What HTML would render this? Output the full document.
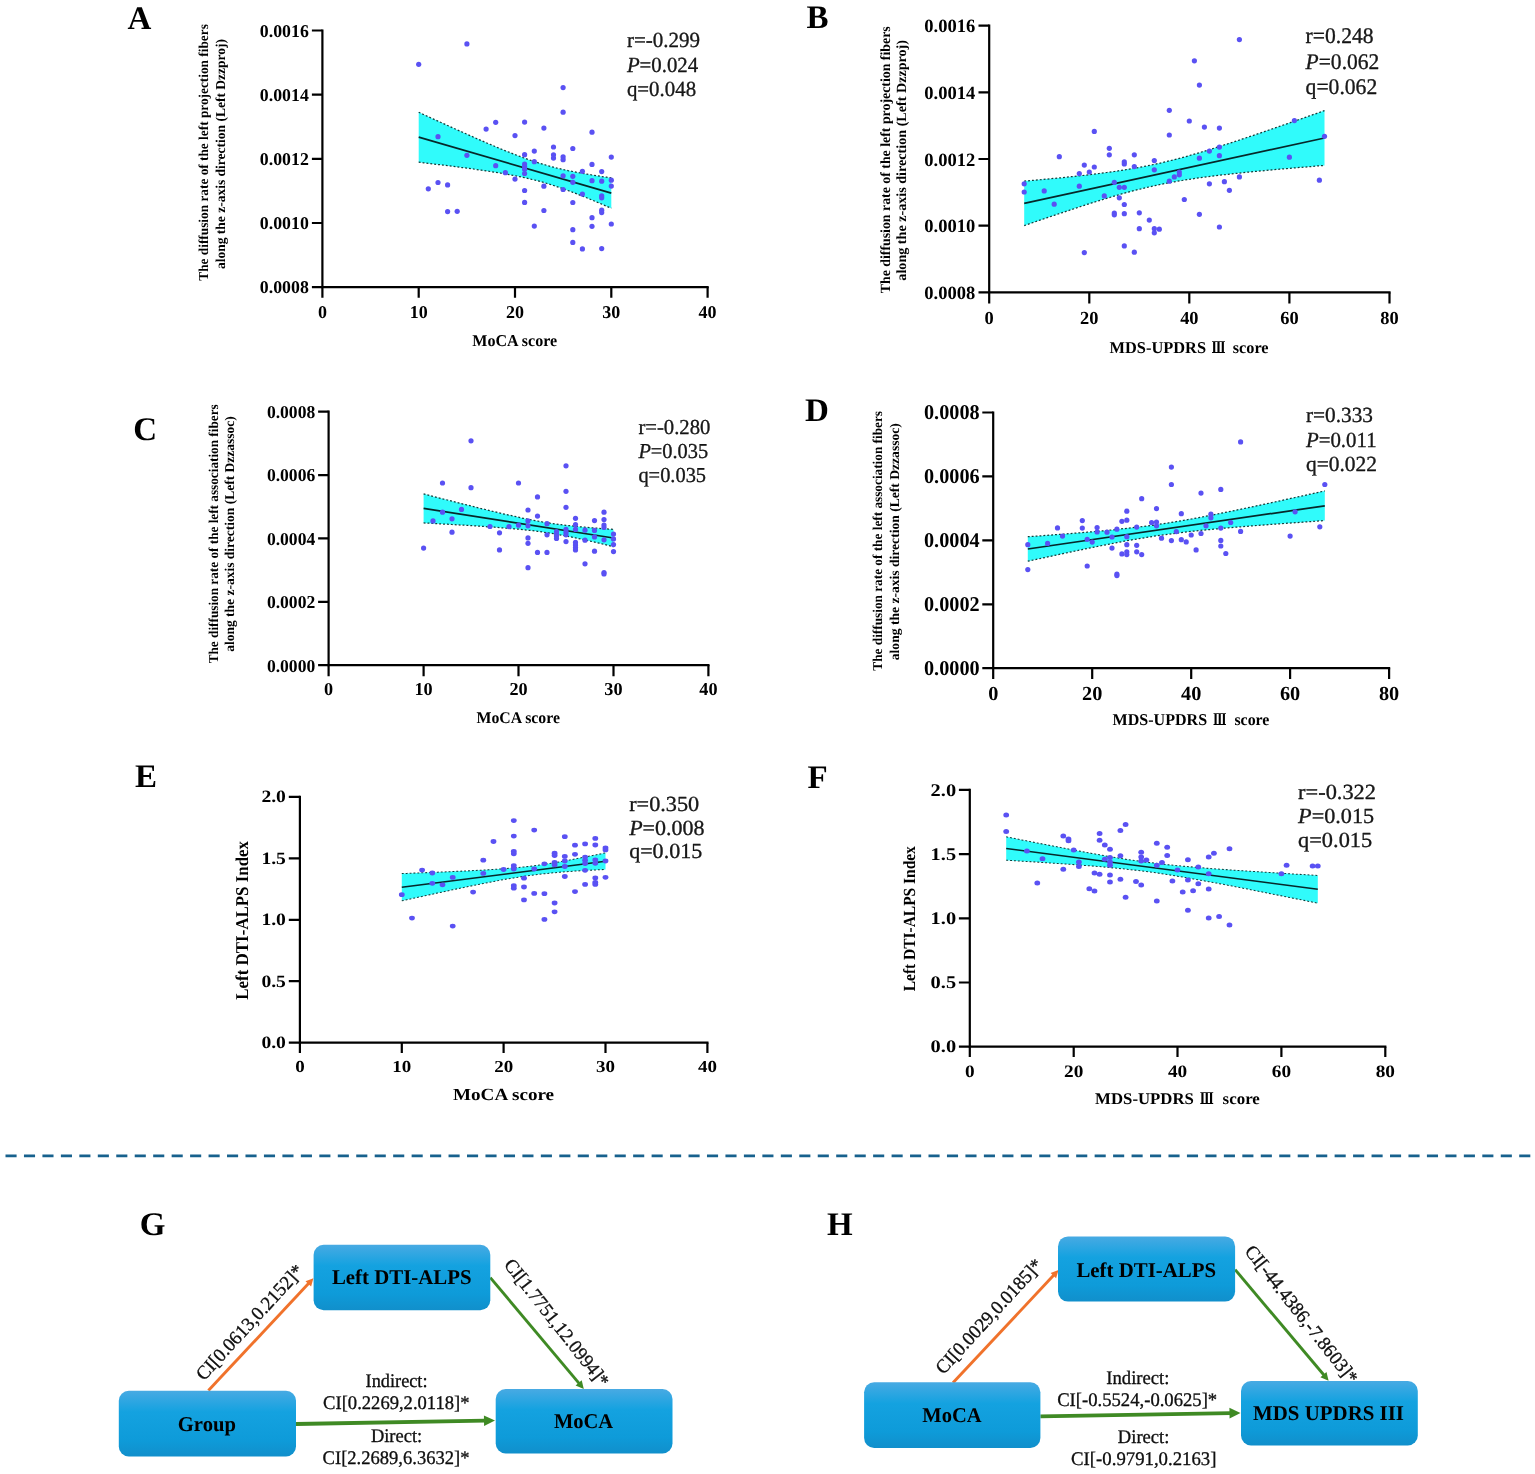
<!DOCTYPE html>
<html lang="en"><head><meta charset="utf-8"><title>Figure</title>
<style>
html,body{margin:0;padding:0;background:#fff;}
body{width:1535px;height:1474px;overflow:hidden;}
svg{display:block;font-family:'Liberation Serif', 'Noto Serif CJK SC', serif;}
text{stroke:#000;stroke-width:0.3px;stroke-linejoin:round;}
text[font-weight=bold],g[font-weight=bold] text{stroke:none;}
</style></head><body>
<svg width="1535" height="1474" viewBox="0 0 1535 1474" text-rendering="geometricPrecision">
<rect width="1535" height="1474" fill="#fff"/>
<g id="panel-A">
<polygon points="418.7,112.2 423.5,114.5 428.3,116.7 433.1,118.9 438.0,121.1 442.8,123.3 447.6,125.5 452.4,127.7 457.2,129.9 462.0,132.0 466.9,134.2 471.7,136.3 476.5,138.5 481.3,140.6 486.1,142.7 490.9,144.7 495.7,146.8 500.6,148.8 505.4,150.8 510.2,152.7 515.0,154.6 519.8,156.4 524.6,158.2 529.4,159.9 534.3,161.5 539.1,163.1 543.9,164.5 548.7,165.9 553.5,167.2 558.3,168.4 563.1,169.5 568.0,170.6 572.8,171.5 577.6,172.5 582.4,173.3 587.2,174.2 592.0,175.0 596.9,175.7 601.7,176.5 606.5,177.2 611.3,177.9 611.3,208.3 606.5,206.2 601.7,204.1 596.9,202.1 592.0,200.0 587.2,198.0 582.4,196.1 577.6,194.2 572.8,192.3 568.0,190.5 563.1,188.7 558.3,187.1 553.5,185.5 548.7,184.0 543.9,182.5 539.1,181.2 534.3,180.0 529.4,178.8 524.6,177.7 519.8,176.7 515.0,175.7 510.2,174.8 505.4,174.0 500.6,173.1 495.7,172.4 490.9,171.6 486.1,170.9 481.3,170.2 476.5,169.5 471.7,168.8 466.9,168.2 462.0,167.6 457.2,166.9 452.4,166.3 447.6,165.7 442.8,165.1 438.0,164.5 433.1,163.9 428.3,163.4 423.5,162.8 418.7,162.2" fill="#30fbfb"/>
<polyline points="418.7,112.2 423.5,114.5 428.3,116.7 433.1,118.9 438.0,121.1 442.8,123.3 447.6,125.5 452.4,127.7 457.2,129.9 462.0,132.0 466.9,134.2 471.7,136.3 476.5,138.5 481.3,140.6 486.1,142.7 490.9,144.7 495.7,146.8 500.6,148.8 505.4,150.8 510.2,152.7 515.0,154.6 519.8,156.4 524.6,158.2 529.4,159.9 534.3,161.5 539.1,163.1 543.9,164.5 548.7,165.9 553.5,167.2 558.3,168.4 563.1,169.5 568.0,170.6 572.8,171.5 577.6,172.5 582.4,173.3 587.2,174.2 592.0,175.0 596.9,175.7 601.7,176.5 606.5,177.2 611.3,177.9" fill="none" stroke="#123c3a" stroke-width="1.25" stroke-dasharray="1.9 2"/>
<polyline points="418.7,162.2 423.5,162.8 428.3,163.4 433.1,163.9 438.0,164.5 442.8,165.1 447.6,165.7 452.4,166.3 457.2,166.9 462.0,167.6 466.9,168.2 471.7,168.8 476.5,169.5 481.3,170.2 486.1,170.9 490.9,171.6 495.7,172.4 500.6,173.1 505.4,174.0 510.2,174.8 515.0,175.7 519.8,176.7 524.6,177.7 529.4,178.8 534.3,180.0 539.1,181.2 543.9,182.5 548.7,184.0 553.5,185.5 558.3,187.1 563.1,188.7 568.0,190.5 572.8,192.3 577.6,194.2 582.4,196.1 587.2,198.0 592.0,200.0 596.9,202.1 601.7,204.1 606.5,206.2 611.3,208.3" fill="none" stroke="#123c3a" stroke-width="1.25" stroke-dasharray="1.9 2"/>
<line x1="418.7" y1="137.2" x2="611.3" y2="193.1" stroke="#06282a" stroke-width="1.75"/>
<g fill="#5a51f3"><circle cx="466.9" cy="43.9" r="2.6"/><circle cx="418.7" cy="64.3" r="2.6"/><circle cx="563.1" cy="87.6" r="2.6"/><circle cx="563.1" cy="112.2" r="2.6"/><circle cx="495.7" cy="122.3" r="2.6"/><circle cx="524.6" cy="122.1" r="2.6"/><circle cx="486.1" cy="129.1" r="2.6"/><circle cx="543.9" cy="128.1" r="2.6"/><circle cx="592.0" cy="132.2" r="2.6"/><circle cx="515.0" cy="135.6" r="2.6"/><circle cx="438.0" cy="136.7" r="2.6"/><circle cx="553.5" cy="147.0" r="2.6"/><circle cx="572.8" cy="148.5" r="2.6"/><circle cx="534.3" cy="151.1" r="2.6"/><circle cx="524.6" cy="154.7" r="2.6"/><circle cx="553.5" cy="154.8" r="2.6"/><circle cx="553.5" cy="158.1" r="2.6"/><circle cx="563.1" cy="156.8" r="2.6"/><circle cx="563.1" cy="159.7" r="2.6"/><circle cx="466.9" cy="155.3" r="2.6"/><circle cx="611.3" cy="157.1" r="2.6"/><circle cx="534.3" cy="161.7" r="2.6"/><circle cx="524.6" cy="164.1" r="2.6"/><circle cx="524.6" cy="166.5" r="2.6"/><circle cx="524.6" cy="169.3" r="2.6"/><circle cx="524.6" cy="173.5" r="2.6"/><circle cx="495.7" cy="165.7" r="2.6"/><circle cx="592.0" cy="164.4" r="2.6"/><circle cx="505.4" cy="172.7" r="2.6"/><circle cx="582.4" cy="171.3" r="2.6"/><circle cx="601.7" cy="171.6" r="2.6"/><circle cx="563.1" cy="175.8" r="2.6"/><circle cx="572.8" cy="176.3" r="2.6"/><circle cx="515.0" cy="179.1" r="2.6"/><circle cx="592.0" cy="180.7" r="2.6"/><circle cx="601.7" cy="181.2" r="2.6"/><circle cx="611.3" cy="180.2" r="2.6"/><circle cx="572.8" cy="182.3" r="2.6"/><circle cx="611.3" cy="186.1" r="2.6"/><circle cx="438.0" cy="182.5" r="2.6"/><circle cx="447.6" cy="184.9" r="2.6"/><circle cx="428.3" cy="188.8" r="2.6"/><circle cx="543.9" cy="186.2" r="2.6"/><circle cx="563.1" cy="189.5" r="2.6"/><circle cx="524.6" cy="190.5" r="2.6"/><circle cx="582.4" cy="194.1" r="2.6"/><circle cx="601.7" cy="195.8" r="2.6"/><circle cx="601.7" cy="197.8" r="2.6"/><circle cx="524.6" cy="202.4" r="2.6"/><circle cx="572.8" cy="202.5" r="2.6"/><circle cx="447.6" cy="211.6" r="2.6"/><circle cx="457.2" cy="211.3" r="2.6"/><circle cx="543.9" cy="210.5" r="2.6"/><circle cx="601.7" cy="210.2" r="2.6"/><circle cx="601.7" cy="212.6" r="2.6"/><circle cx="592.0" cy="217.7" r="2.6"/><circle cx="534.3" cy="226.1" r="2.6"/><circle cx="592.0" cy="226.3" r="2.6"/><circle cx="611.3" cy="224.0" r="2.6"/><circle cx="572.8" cy="229.7" r="2.6"/><circle cx="572.8" cy="242.4" r="2.6"/><circle cx="582.4" cy="248.9" r="2.6"/><circle cx="601.7" cy="248.6" r="2.6"/></g>
<path d="M322.4,29.4 V287.1 H708.7" fill="none" stroke="#000" stroke-width="2.2" stroke-linejoin="miter"/>
<path d="M311.9,287.1 H322.4 M311.9,223.0 H322.4 M311.9,158.8 H322.4 M311.9,94.7 H322.4 M311.9,30.5 H322.4 M322.4,287.1 V297.8 M418.7,287.1 V297.8 M515.0,287.1 V297.8 M611.3,287.1 V297.8 M707.6,287.1 V297.8" fill="none" stroke="#000" stroke-width="2.2"/>
<g font-weight="bold" font-size="18">
<text x="308.80" y="293.40" font-size="18" text-anchor="end" textLength="49.00" lengthAdjust="spacingAndGlyphs">0.0008</text>
<text x="308.80" y="229.25" font-size="18" text-anchor="end" textLength="49.00" lengthAdjust="spacingAndGlyphs">0.0010</text>
<text x="308.80" y="165.10" font-size="18" text-anchor="end" textLength="49.00" lengthAdjust="spacingAndGlyphs">0.0012</text>
<text x="308.80" y="100.95" font-size="18" text-anchor="end" textLength="49.00" lengthAdjust="spacingAndGlyphs">0.0014</text>
<text x="308.80" y="36.80" font-size="18" text-anchor="end" textLength="49.00" lengthAdjust="spacingAndGlyphs">0.0016</text>
<text x="322.40" y="318.20" font-size="18" text-anchor="middle">0</text>
<text x="418.70" y="318.20" font-size="18" text-anchor="middle">10</text>
<text x="515.00" y="318.20" font-size="18" text-anchor="middle">20</text>
<text x="611.30" y="318.20" font-size="18" text-anchor="middle">30</text>
<text x="707.60" y="318.20" font-size="18" text-anchor="middle">40</text>
</g>
<text y="345.60" font-weight="bold"><tspan x="472.30" font-size="16.5" textLength="84.90" lengthAdjust="spacingAndGlyphs">MoCA score</tspan></text>
<text x="208.40" y="152.40" font-size="13.6" font-weight="bold" text-anchor="middle" transform="rotate(-90 208.40 152.40)" textLength="256.50" lengthAdjust="spacingAndGlyphs">The diffusion rate of the left projection fibers</text>
<text x="224.60" y="154.00" font-size="13.6" font-weight="bold" text-anchor="middle" transform="rotate(-90 224.60 154.00)" textLength="230.00" lengthAdjust="spacingAndGlyphs">along the z-axis direction (Left Dzzproj)</text>
<text x="127.50" y="28.80" font-size="33" font-weight="bold">A</text>
<text x="626.90" y="47.40" font-size="21.5" fill="#1a1a1a" textLength="73.20" lengthAdjust="spacingAndGlyphs"><tspan>r</tspan>=-0.299</text>
<text x="626.90" y="71.90" font-size="21.5" fill="#1a1a1a" textLength="71.30" lengthAdjust="spacingAndGlyphs"><tspan font-style="italic">P</tspan>=0.024</text>
<text x="626.90" y="96.20" font-size="21.5" fill="#1a1a1a" textLength="69.20" lengthAdjust="spacingAndGlyphs"><tspan>q</tspan>=0.048</text>
</g>
<g id="panel-B">
<polygon points="1024.2,181.1 1031.7,180.5 1039.2,179.8 1046.7,179.1 1054.2,178.4 1061.8,177.7 1069.3,176.9 1076.8,176.1 1084.3,175.3 1091.8,174.4 1099.3,173.5 1106.8,172.5 1114.3,171.5 1121.8,170.3 1129.3,169.1 1136.8,167.8 1144.3,166.4 1151.8,164.9 1159.3,163.3 1166.8,161.5 1174.3,159.6 1181.8,157.7 1189.3,155.6 1196.9,153.4 1204.4,151.2 1211.9,148.9 1219.4,146.5 1226.9,144.1 1234.4,141.7 1241.9,139.2 1249.4,136.7 1256.9,134.2 1264.4,131.6 1271.9,129.0 1279.4,126.4 1286.9,123.8 1294.4,121.2 1301.9,118.6 1309.4,115.9 1316.9,113.3 1324.5,110.6 1324.5,165.4 1316.9,166.0 1309.4,166.7 1301.9,167.3 1294.4,167.9 1286.9,168.6 1279.4,169.2 1271.9,169.9 1264.4,170.6 1256.9,171.3 1249.4,172.0 1241.9,172.8 1234.4,173.6 1226.9,174.4 1219.4,175.3 1211.9,176.2 1204.4,177.1 1196.9,178.2 1189.3,179.3 1181.8,180.5 1174.3,181.8 1166.8,183.2 1159.3,184.7 1151.8,186.3 1144.3,188.1 1136.8,189.9 1129.3,191.9 1121.8,193.9 1114.3,196.1 1106.8,198.3 1099.3,200.6 1091.8,202.9 1084.3,205.3 1076.8,207.8 1069.3,210.3 1061.8,212.8 1054.2,215.3 1046.7,217.9 1039.2,220.4 1031.7,223.0 1024.2,225.6" fill="#30fbfb"/>
<polyline points="1024.2,181.1 1031.7,180.5 1039.2,179.8 1046.7,179.1 1054.2,178.4 1061.8,177.7 1069.3,176.9 1076.8,176.1 1084.3,175.3 1091.8,174.4 1099.3,173.5 1106.8,172.5 1114.3,171.5 1121.8,170.3 1129.3,169.1 1136.8,167.8 1144.3,166.4 1151.8,164.9 1159.3,163.3 1166.8,161.5 1174.3,159.6 1181.8,157.7 1189.3,155.6 1196.9,153.4 1204.4,151.2 1211.9,148.9 1219.4,146.5 1226.9,144.1 1234.4,141.7 1241.9,139.2 1249.4,136.7 1256.9,134.2 1264.4,131.6 1271.9,129.0 1279.4,126.4 1286.9,123.8 1294.4,121.2 1301.9,118.6 1309.4,115.9 1316.9,113.3 1324.5,110.6" fill="none" stroke="#123c3a" stroke-width="1.25" stroke-dasharray="1.9 2"/>
<polyline points="1024.2,225.6 1031.7,223.0 1039.2,220.4 1046.7,217.9 1054.2,215.3 1061.8,212.8 1069.3,210.3 1076.8,207.8 1084.3,205.3 1091.8,202.9 1099.3,200.6 1106.8,198.3 1114.3,196.1 1121.8,193.9 1129.3,191.9 1136.8,189.9 1144.3,188.1 1151.8,186.3 1159.3,184.7 1166.8,183.2 1174.3,181.8 1181.8,180.5 1189.3,179.3 1196.9,178.2 1204.4,177.1 1211.9,176.2 1219.4,175.3 1226.9,174.4 1234.4,173.6 1241.9,172.8 1249.4,172.0 1256.9,171.3 1264.4,170.6 1271.9,169.9 1279.4,169.2 1286.9,168.6 1294.4,167.9 1301.9,167.3 1309.4,166.7 1316.9,166.0 1324.5,165.4" fill="none" stroke="#123c3a" stroke-width="1.25" stroke-dasharray="1.9 2"/>
<line x1="1024.2" y1="203.4" x2="1324.5" y2="138.0" stroke="#06282a" stroke-width="1.75"/>
<g fill="#5a51f3"><circle cx="1239.4" cy="39.6" r="2.6"/><circle cx="1194.4" cy="60.8" r="2.6"/><circle cx="1199.4" cy="85.1" r="2.6"/><circle cx="1169.3" cy="110.3" r="2.6"/><circle cx="1189.3" cy="121.0" r="2.6"/><circle cx="1204.4" cy="127.1" r="2.6"/><circle cx="1219.4" cy="128.1" r="2.6"/><circle cx="1094.3" cy="131.4" r="2.6"/><circle cx="1169.3" cy="135.0" r="2.6"/><circle cx="1294.4" cy="120.6" r="2.6"/><circle cx="1324.5" cy="136.3" r="2.6"/><circle cx="1109.3" cy="148.3" r="2.6"/><circle cx="1109.3" cy="154.8" r="2.6"/><circle cx="1134.3" cy="154.8" r="2.6"/><circle cx="1219.4" cy="147.1" r="2.6"/><circle cx="1209.4" cy="151.1" r="2.6"/><circle cx="1059.3" cy="156.7" r="2.6"/><circle cx="1219.4" cy="155.7" r="2.6"/><circle cx="1199.4" cy="158.2" r="2.6"/><circle cx="1289.4" cy="157.2" r="2.6"/><circle cx="1124.3" cy="161.9" r="2.6"/><circle cx="1124.3" cy="164.0" r="2.6"/><circle cx="1154.3" cy="160.6" r="2.6"/><circle cx="1084.3" cy="165.1" r="2.6"/><circle cx="1094.3" cy="167.0" r="2.6"/><circle cx="1134.3" cy="166.6" r="2.6"/><circle cx="1079.3" cy="173.5" r="2.6"/><circle cx="1089.3" cy="172.0" r="2.6"/><circle cx="1154.3" cy="169.8" r="2.6"/><circle cx="1179.3" cy="172.0" r="2.6"/><circle cx="1179.3" cy="174.8" r="2.6"/><circle cx="1174.3" cy="176.9" r="2.6"/><circle cx="1239.4" cy="176.9" r="2.6"/><circle cx="1169.3" cy="181.2" r="2.6"/><circle cx="1319.4" cy="180.2" r="2.6"/><circle cx="1024.2" cy="183.8" r="2.6"/><circle cx="1024.2" cy="192.0" r="2.6"/><circle cx="1044.2" cy="190.9" r="2.6"/><circle cx="1079.3" cy="186.2" r="2.6"/><circle cx="1114.3" cy="182.3" r="2.6"/><circle cx="1119.3" cy="187.3" r="2.6"/><circle cx="1124.3" cy="187.3" r="2.6"/><circle cx="1209.4" cy="183.8" r="2.6"/><circle cx="1224.4" cy="181.7" r="2.6"/><circle cx="1229.4" cy="190.3" r="2.6"/><circle cx="1104.3" cy="195.9" r="2.6"/><circle cx="1119.3" cy="197.8" r="2.6"/><circle cx="1054.2" cy="204.2" r="2.6"/><circle cx="1124.3" cy="204.5" r="2.6"/><circle cx="1184.3" cy="199.5" r="2.6"/><circle cx="1114.3" cy="213.1" r="2.6"/><circle cx="1114.3" cy="214.8" r="2.6"/><circle cx="1124.3" cy="213.7" r="2.6"/><circle cx="1139.3" cy="212.8" r="2.6"/><circle cx="1199.4" cy="214.3" r="2.6"/><circle cx="1149.3" cy="220.1" r="2.6"/><circle cx="1139.3" cy="228.7" r="2.6"/><circle cx="1154.3" cy="228.7" r="2.6"/><circle cx="1159.3" cy="229.2" r="2.6"/><circle cx="1154.3" cy="232.8" r="2.6"/><circle cx="1219.4" cy="227.0" r="2.6"/><circle cx="1124.3" cy="245.9" r="2.6"/><circle cx="1084.3" cy="252.6" r="2.6"/><circle cx="1134.3" cy="252.2" r="2.6"/></g>
<path d="M989.2,24.6 V292.4 H1390.6" fill="none" stroke="#000" stroke-width="2.2" stroke-linejoin="miter"/>
<path d="M978.5,292.4 H989.2 M978.5,225.7 H989.2 M978.5,159.0 H989.2 M978.5,92.4 H989.2 M978.5,25.7 H989.2 M989.2,292.4 V303.6 M1089.3,292.4 V303.6 M1189.3,292.4 V303.6 M1289.4,292.4 V303.6 M1389.5,292.4 V303.6" fill="none" stroke="#000" stroke-width="2.2"/>
<g font-weight="bold" font-size="18.8">
<text x="975.30" y="299.00" font-size="18.8" text-anchor="end" textLength="51.00" lengthAdjust="spacingAndGlyphs">0.0008</text>
<text x="975.30" y="232.32" font-size="18.8" text-anchor="end" textLength="51.00" lengthAdjust="spacingAndGlyphs">0.0010</text>
<text x="975.30" y="165.65" font-size="18.8" text-anchor="end" textLength="51.00" lengthAdjust="spacingAndGlyphs">0.0012</text>
<text x="975.30" y="98.97" font-size="18.8" text-anchor="end" textLength="51.00" lengthAdjust="spacingAndGlyphs">0.0014</text>
<text x="975.30" y="32.30" font-size="18.8" text-anchor="end" textLength="51.00" lengthAdjust="spacingAndGlyphs">0.0016</text>
<text x="989.20" y="324.10" font-size="18.4" text-anchor="middle">0</text>
<text x="1089.28" y="324.10" font-size="18.4" text-anchor="middle">20</text>
<text x="1189.35" y="324.10" font-size="18.4" text-anchor="middle">40</text>
<text x="1289.42" y="324.10" font-size="18.4" text-anchor="middle">60</text>
<text x="1389.50" y="324.10" font-size="18.4" text-anchor="middle">80</text>
</g>
<text y="353.20" font-weight="bold"><tspan x="1109.50" font-size="16.5" textLength="96.60" lengthAdjust="spacingAndGlyphs">MDS-UPDRS</tspan> <tspan x="1211.50" font-size="16.3" textLength="14.00" lengthAdjust="spacingAndGlyphs" font-family="'DejaVu Serif', 'Noto Serif CJK SC', serif">Ⅲ</tspan> <tspan x="1232.70" font-size="16.5" textLength="35.90" lengthAdjust="spacingAndGlyphs">score</tspan></text>
<text x="890.10" y="159.80" font-size="14" font-weight="bold" text-anchor="middle" transform="rotate(-90 890.10 159.80)" textLength="267.00" lengthAdjust="spacingAndGlyphs">The diffusion rate of the left projection fibers</text>
<text x="906.30" y="160.30" font-size="14" font-weight="bold" text-anchor="middle" transform="rotate(-90 906.30 160.30)" textLength="240.70" lengthAdjust="spacingAndGlyphs">along the z-axis direction (Left Dzzproj)</text>
<text x="806.50" y="28.40" font-size="33" font-weight="bold">B</text>
<text x="1305.60" y="43.20" font-size="22.3" fill="#1a1a1a" textLength="68.00" lengthAdjust="spacingAndGlyphs"><tspan>r</tspan>=0.248</text>
<text x="1305.60" y="68.50" font-size="22.3" fill="#1a1a1a" textLength="73.70" lengthAdjust="spacingAndGlyphs"><tspan font-style="italic">P</tspan>=0.062</text>
<text x="1305.60" y="94.20" font-size="22.3" fill="#1a1a1a" textLength="71.60" lengthAdjust="spacingAndGlyphs"><tspan>q</tspan>=0.062</text>
</g>
<g id="panel-C">
<polygon points="423.6,493.9 428.3,495.1 433.0,496.4 437.8,497.6 442.5,498.8 447.3,500.0 452.0,501.2 456.8,502.4 461.5,503.6 466.3,504.8 471.0,506.0 475.8,507.2 480.5,508.4 485.3,509.5 490.0,510.7 494.8,511.8 499.5,512.9 504.3,514.1 509.0,515.1 513.8,516.2 518.5,517.2 523.2,518.3 528.0,519.2 532.7,520.2 537.5,521.0 542.2,521.9 547.0,522.7 551.7,523.4 556.5,524.1 561.2,524.7 566.0,525.3 570.7,525.8 575.5,526.3 580.2,526.8 585.0,527.2 589.7,527.6 594.5,528.0 599.2,528.4 604.0,528.8 608.7,529.1 613.5,529.4 613.5,546.7 608.7,545.5 604.0,544.4 599.2,543.2 594.5,542.1 589.7,541.0 585.0,540.0 580.2,538.9 575.5,537.9 570.7,536.9 566.0,536.0 561.2,535.1 556.5,534.2 551.7,533.4 547.0,532.7 542.2,532.0 537.5,531.3 532.7,530.7 528.0,530.2 523.2,529.7 518.5,529.2 513.8,528.8 509.0,528.4 504.3,528.0 499.5,527.6 494.8,527.2 490.0,526.9 485.3,526.6 480.5,526.2 475.8,525.9 471.0,525.6 466.3,525.3 461.5,525.1 456.8,524.8 452.0,524.5 447.3,524.2 442.5,524.0 437.8,523.7 433.0,523.4 428.3,523.2 423.6,522.9" fill="#30fbfb"/>
<polyline points="423.6,493.9 428.3,495.1 433.0,496.4 437.8,497.6 442.5,498.8 447.3,500.0 452.0,501.2 456.8,502.4 461.5,503.6 466.3,504.8 471.0,506.0 475.8,507.2 480.5,508.4 485.3,509.5 490.0,510.7 494.8,511.8 499.5,512.9 504.3,514.1 509.0,515.1 513.8,516.2 518.5,517.2 523.2,518.3 528.0,519.2 532.7,520.2 537.5,521.0 542.2,521.9 547.0,522.7 551.7,523.4 556.5,524.1 561.2,524.7 566.0,525.3 570.7,525.8 575.5,526.3 580.2,526.8 585.0,527.2 589.7,527.6 594.5,528.0 599.2,528.4 604.0,528.8 608.7,529.1 613.5,529.4" fill="none" stroke="#123c3a" stroke-width="1.25" stroke-dasharray="1.9 2"/>
<polyline points="423.6,522.9 428.3,523.2 433.0,523.4 437.8,523.7 442.5,524.0 447.3,524.2 452.0,524.5 456.8,524.8 461.5,525.1 466.3,525.3 471.0,525.6 475.8,525.9 480.5,526.2 485.3,526.6 490.0,526.9 494.8,527.2 499.5,527.6 504.3,528.0 509.0,528.4 513.8,528.8 518.5,529.2 523.2,529.7 528.0,530.2 532.7,530.7 537.5,531.3 542.2,532.0 547.0,532.7 551.7,533.4 556.5,534.2 561.2,535.1 566.0,536.0 570.7,536.9 575.5,537.9 580.2,538.9 585.0,540.0 589.7,541.0 594.5,542.1 599.2,543.2 604.0,544.4 608.7,545.5 613.5,546.7" fill="none" stroke="#123c3a" stroke-width="1.25" stroke-dasharray="1.9 2"/>
<line x1="423.6" y1="508.4" x2="613.5" y2="538.0" stroke="#06282a" stroke-width="1.75"/>
<g fill="#5a51f3"><circle cx="471.0" cy="440.8" r="2.6"/><circle cx="566.0" cy="465.8" r="2.6"/><circle cx="442.5" cy="483.0" r="2.6"/><circle cx="518.5" cy="483.0" r="2.6"/><circle cx="471.0" cy="487.7" r="2.6"/><circle cx="566.0" cy="491.3" r="2.6"/><circle cx="537.5" cy="496.9" r="2.6"/><circle cx="566.0" cy="507.3" r="2.6"/><circle cx="461.5" cy="509.4" r="2.6"/><circle cx="528.0" cy="510.0" r="2.6"/><circle cx="442.5" cy="512.2" r="2.6"/><circle cx="604.0" cy="512.2" r="2.6"/><circle cx="537.5" cy="516.1" r="2.6"/><circle cx="575.5" cy="518.3" r="2.6"/><circle cx="452.0" cy="518.8" r="2.6"/><circle cx="594.5" cy="520.6" r="2.6"/><circle cx="604.0" cy="519.6" r="2.6"/><circle cx="433.0" cy="520.9" r="2.6"/><circle cx="528.0" cy="520.9" r="2.6"/><circle cx="547.0" cy="523.7" r="2.6"/><circle cx="575.5" cy="524.5" r="2.6"/><circle cx="604.0" cy="525.0" r="2.6"/><circle cx="604.0" cy="527.5" r="2.6"/><circle cx="518.5" cy="525.2" r="2.6"/><circle cx="528.0" cy="525.8" r="2.6"/><circle cx="490.0" cy="526.5" r="2.6"/><circle cx="509.0" cy="526.6" r="2.6"/><circle cx="566.0" cy="529.4" r="2.6"/><circle cx="575.5" cy="529.4" r="2.6"/><circle cx="585.0" cy="530.2" r="2.6"/><circle cx="594.5" cy="530.4" r="2.6"/><circle cx="556.5" cy="531.5" r="2.6"/><circle cx="566.0" cy="532.3" r="2.6"/><circle cx="566.0" cy="534.8" r="2.6"/><circle cx="556.5" cy="534.0" r="2.6"/><circle cx="556.5" cy="535.9" r="2.6"/><circle cx="547.0" cy="534.8" r="2.6"/><circle cx="452.0" cy="532.2" r="2.6"/><circle cx="499.5" cy="532.8" r="2.6"/><circle cx="613.5" cy="534.0" r="2.6"/><circle cx="594.5" cy="536.9" r="2.6"/><circle cx="528.0" cy="537.9" r="2.6"/><circle cx="556.5" cy="538.5" r="2.6"/><circle cx="613.5" cy="538.9" r="2.6"/><circle cx="604.0" cy="539.8" r="2.6"/><circle cx="585.0" cy="540.2" r="2.6"/><circle cx="566.0" cy="541.6" r="2.6"/><circle cx="575.5" cy="542.4" r="2.6"/><circle cx="528.0" cy="543.3" r="2.6"/><circle cx="575.5" cy="545.0" r="2.6"/><circle cx="613.5" cy="544.6" r="2.6"/><circle cx="575.5" cy="547.5" r="2.6"/><circle cx="575.5" cy="549.9" r="2.6"/><circle cx="423.6" cy="548.1" r="2.6"/><circle cx="499.5" cy="549.9" r="2.6"/><circle cx="594.5" cy="551.2" r="2.6"/><circle cx="537.5" cy="552.4" r="2.6"/><circle cx="547.0" cy="552.4" r="2.6"/><circle cx="613.5" cy="551.6" r="2.6"/><circle cx="585.0" cy="563.8" r="2.6"/><circle cx="528.0" cy="567.7" r="2.6"/><circle cx="604.0" cy="572.6" r="2.6"/><circle cx="604.0" cy="573.9" r="2.6"/></g>
<path d="M328.6,410.6 V665.1 H709.5" fill="none" stroke="#000" stroke-width="2.2" stroke-linejoin="miter"/>
<path d="M318.1,665.1 H328.6 M318.1,601.8 H328.6 M318.1,538.4 H328.6 M318.1,475.1 H328.6 M318.1,411.7 H328.6 M328.6,665.1 V676.3 M423.6,665.1 V676.3 M518.5,665.1 V676.3 M613.5,665.1 V676.3 M708.4,665.1 V676.3" fill="none" stroke="#000" stroke-width="2.2"/>
<g font-weight="bold" font-size="18.2">
<text x="315.20" y="671.50" font-size="18.2" text-anchor="end" textLength="48.30" lengthAdjust="spacingAndGlyphs">0.0000</text>
<text x="315.20" y="608.15" font-size="18.2" text-anchor="end" textLength="48.30" lengthAdjust="spacingAndGlyphs">0.0002</text>
<text x="315.20" y="544.80" font-size="18.2" text-anchor="end" textLength="48.30" lengthAdjust="spacingAndGlyphs">0.0004</text>
<text x="315.20" y="481.45" font-size="18.2" text-anchor="end" textLength="48.30" lengthAdjust="spacingAndGlyphs">0.0006</text>
<text x="315.20" y="418.10" font-size="18.2" text-anchor="end" textLength="48.30" lengthAdjust="spacingAndGlyphs">0.0008</text>
<text x="328.60" y="695.40" font-size="18.2" text-anchor="middle">0</text>
<text x="423.55" y="695.40" font-size="18.2" text-anchor="middle">10</text>
<text x="518.50" y="695.40" font-size="18.2" text-anchor="middle">20</text>
<text x="613.45" y="695.40" font-size="18.2" text-anchor="middle">30</text>
<text x="708.40" y="695.40" font-size="18.2" text-anchor="middle">40</text>
</g>
<text y="722.80" font-weight="bold"><tspan x="476.50" font-size="16.3" textLength="83.50" lengthAdjust="spacingAndGlyphs">MoCA score</tspan></text>
<text x="217.70" y="533.80" font-size="13.5" font-weight="bold" text-anchor="middle" transform="rotate(-90 217.70 533.80)" textLength="259.00" lengthAdjust="spacingAndGlyphs">The diffusion rate of the left association fibers</text>
<text x="234.00" y="534.00" font-size="13.5" font-weight="bold" text-anchor="middle" transform="rotate(-90 234.00 534.00)" textLength="235.50" lengthAdjust="spacingAndGlyphs">along the z-axis direction (Left Dzzassoc)</text>
<text x="133.20" y="440.00" font-size="33" font-weight="bold">C</text>
<text x="638.40" y="434.00" font-size="21.3" fill="#1a1a1a" textLength="72.00" lengthAdjust="spacingAndGlyphs"><tspan>r</tspan>=-0.280</text>
<text x="638.40" y="458.10" font-size="21.3" fill="#1a1a1a" textLength="69.80" lengthAdjust="spacingAndGlyphs"><tspan font-style="italic">P</tspan>=0.035</text>
<text x="638.40" y="481.80" font-size="21.3" fill="#1a1a1a" textLength="67.70" lengthAdjust="spacingAndGlyphs"><tspan>q</tspan>=0.035</text>
</g>
<g id="panel-D">
<polygon points="1027.8,536.7 1035.3,536.2 1042.7,535.7 1050.1,535.1 1057.5,534.5 1065.0,534.0 1072.4,533.4 1079.8,532.8 1087.2,532.2 1094.6,531.5 1102.1,530.9 1109.5,530.2 1116.9,529.4 1124.3,528.6 1131.8,527.8 1139.2,526.9 1146.6,526.0 1154.0,525.0 1161.5,523.9 1168.9,522.8 1176.3,521.6 1183.7,520.3 1191.2,519.0 1198.6,517.7 1206.0,516.2 1213.4,514.8 1220.8,513.3 1228.3,511.8 1235.7,510.3 1243.1,508.7 1250.5,507.2 1258.0,505.6 1265.4,504.0 1272.8,502.4 1280.2,500.8 1287.7,499.1 1295.1,497.5 1302.5,495.9 1309.9,494.2 1317.3,492.6 1324.8,490.9 1324.8,520.6 1317.3,521.1 1309.9,521.6 1302.5,522.2 1295.1,522.7 1287.7,523.2 1280.2,523.8 1272.8,524.3 1265.4,524.9 1258.0,525.4 1250.5,526.0 1243.1,526.6 1235.7,527.2 1228.3,527.8 1220.8,528.5 1213.4,529.2 1206.0,529.9 1198.6,530.6 1191.2,531.4 1183.7,532.3 1176.3,533.2 1168.9,534.1 1161.5,535.1 1154.0,536.2 1146.6,537.4 1139.2,538.6 1131.8,539.9 1124.3,541.2 1116.9,542.6 1109.5,544.1 1102.1,545.5 1094.6,547.0 1087.2,548.5 1079.8,550.1 1072.4,551.6 1065.0,553.2 1057.5,554.8 1050.1,556.4 1042.7,558.0 1035.3,559.6 1027.8,561.2" fill="#30fbfb"/>
<polyline points="1027.8,536.7 1035.3,536.2 1042.7,535.7 1050.1,535.1 1057.5,534.5 1065.0,534.0 1072.4,533.4 1079.8,532.8 1087.2,532.2 1094.6,531.5 1102.1,530.9 1109.5,530.2 1116.9,529.4 1124.3,528.6 1131.8,527.8 1139.2,526.9 1146.6,526.0 1154.0,525.0 1161.5,523.9 1168.9,522.8 1176.3,521.6 1183.7,520.3 1191.2,519.0 1198.6,517.7 1206.0,516.2 1213.4,514.8 1220.8,513.3 1228.3,511.8 1235.7,510.3 1243.1,508.7 1250.5,507.2 1258.0,505.6 1265.4,504.0 1272.8,502.4 1280.2,500.8 1287.7,499.1 1295.1,497.5 1302.5,495.9 1309.9,494.2 1317.3,492.6 1324.8,490.9" fill="none" stroke="#123c3a" stroke-width="1.25" stroke-dasharray="1.9 2"/>
<polyline points="1027.8,561.2 1035.3,559.6 1042.7,558.0 1050.1,556.4 1057.5,554.8 1065.0,553.2 1072.4,551.6 1079.8,550.1 1087.2,548.5 1094.6,547.0 1102.1,545.5 1109.5,544.1 1116.9,542.6 1124.3,541.2 1131.8,539.9 1139.2,538.6 1146.6,537.4 1154.0,536.2 1161.5,535.1 1168.9,534.1 1176.3,533.2 1183.7,532.3 1191.2,531.4 1198.6,530.6 1206.0,529.9 1213.4,529.2 1220.8,528.5 1228.3,527.8 1235.7,527.2 1243.1,526.6 1250.5,526.0 1258.0,525.4 1265.4,524.9 1272.8,524.3 1280.2,523.8 1287.7,523.2 1295.1,522.7 1302.5,522.2 1309.9,521.6 1317.3,521.1 1324.8,520.6" fill="none" stroke="#123c3a" stroke-width="1.25" stroke-dasharray="1.9 2"/>
<line x1="1027.8" y1="549.0" x2="1324.8" y2="505.8" stroke="#06282a" stroke-width="1.75"/>
<g fill="#5a51f3"><circle cx="1240.6" cy="441.9" r="2.6"/><circle cx="1171.4" cy="467.1" r="2.6"/><circle cx="1171.4" cy="484.5" r="2.6"/><circle cx="1324.8" cy="484.5" r="2.6"/><circle cx="1220.8" cy="489.4" r="2.6"/><circle cx="1201.0" cy="493.1" r="2.6"/><circle cx="1141.7" cy="498.7" r="2.6"/><circle cx="1126.8" cy="511.2" r="2.6"/><circle cx="1156.5" cy="508.6" r="2.6"/><circle cx="1181.3" cy="513.7" r="2.6"/><circle cx="1210.9" cy="514.2" r="2.6"/><circle cx="1210.9" cy="517.8" r="2.6"/><circle cx="1082.3" cy="520.6" r="2.6"/><circle cx="1121.9" cy="521.3" r="2.6"/><circle cx="1126.8" cy="520.2" r="2.6"/><circle cx="1151.6" cy="522.5" r="2.6"/><circle cx="1156.5" cy="522.1" r="2.6"/><circle cx="1156.5" cy="525.8" r="2.6"/><circle cx="1057.5" cy="527.9" r="2.6"/><circle cx="1082.3" cy="528.1" r="2.6"/><circle cx="1097.1" cy="527.5" r="2.6"/><circle cx="1097.1" cy="532.0" r="2.6"/><circle cx="1116.9" cy="529.2" r="2.6"/><circle cx="1136.7" cy="527.1" r="2.6"/><circle cx="1107.0" cy="532.2" r="2.6"/><circle cx="1230.7" cy="522.5" r="2.6"/><circle cx="1206.0" cy="525.8" r="2.6"/><circle cx="1220.8" cy="528.1" r="2.6"/><circle cx="1295.1" cy="511.8" r="2.6"/><circle cx="1319.8" cy="526.8" r="2.6"/><circle cx="1240.6" cy="531.4" r="2.6"/><circle cx="1176.3" cy="531.6" r="2.6"/><circle cx="1201.0" cy="533.5" r="2.6"/><circle cx="1191.2" cy="535.0" r="2.6"/><circle cx="1062.5" cy="536.1" r="2.6"/><circle cx="1112.0" cy="537.0" r="2.6"/><circle cx="1126.8" cy="536.7" r="2.6"/><circle cx="1087.2" cy="539.3" r="2.6"/><circle cx="1092.2" cy="542.1" r="2.6"/><circle cx="1161.5" cy="538.2" r="2.6"/><circle cx="1171.4" cy="540.6" r="2.6"/><circle cx="1181.3" cy="539.7" r="2.6"/><circle cx="1186.2" cy="541.9" r="2.6"/><circle cx="1290.1" cy="536.1" r="2.6"/><circle cx="1027.8" cy="544.7" r="2.6"/><circle cx="1047.6" cy="543.4" r="2.6"/><circle cx="1126.8" cy="544.7" r="2.6"/><circle cx="1136.7" cy="545.3" r="2.6"/><circle cx="1220.8" cy="540.4" r="2.6"/><circle cx="1220.8" cy="546.0" r="2.6"/><circle cx="1112.0" cy="548.1" r="2.6"/><circle cx="1196.1" cy="549.9" r="2.6"/><circle cx="1121.9" cy="553.9" r="2.6"/><circle cx="1126.8" cy="551.8" r="2.6"/><circle cx="1126.8" cy="554.6" r="2.6"/><circle cx="1136.7" cy="551.8" r="2.6"/><circle cx="1141.7" cy="554.6" r="2.6"/><circle cx="1225.8" cy="553.5" r="2.6"/><circle cx="1087.2" cy="566.0" r="2.6"/><circle cx="1027.8" cy="569.6" r="2.6"/><circle cx="1116.9" cy="574.1" r="2.6"/><circle cx="1116.9" cy="575.6" r="2.6"/></g>
<path d="M993.2,411.4 V668.2 H1390.2" fill="none" stroke="#000" stroke-width="2.2" stroke-linejoin="miter"/>
<path d="M982.3,668.2 H993.2 M982.3,604.3 H993.2 M982.3,540.4 H993.2 M982.3,476.4 H993.2 M982.3,412.5 H993.2 M993.2,668.2 V678.9 M1092.2,668.2 V678.9 M1191.2,668.2 V678.9 M1290.1,668.2 V678.9 M1389.1,668.2 V678.9" fill="none" stroke="#000" stroke-width="2.2"/>
<g font-weight="bold" font-size="21">
<text x="979.60" y="675.00" font-size="21" text-anchor="end" textLength="55.60" lengthAdjust="spacingAndGlyphs">0.0000</text>
<text x="979.60" y="611.08" font-size="21" text-anchor="end" textLength="55.60" lengthAdjust="spacingAndGlyphs">0.0002</text>
<text x="979.60" y="547.15" font-size="21" text-anchor="end" textLength="55.60" lengthAdjust="spacingAndGlyphs">0.0004</text>
<text x="979.60" y="483.23" font-size="21" text-anchor="end" textLength="55.60" lengthAdjust="spacingAndGlyphs">0.0006</text>
<text x="979.60" y="419.30" font-size="21" text-anchor="end" textLength="55.60" lengthAdjust="spacingAndGlyphs">0.0008</text>
<text x="993.20" y="699.80" font-size="20" text-anchor="middle" textLength="10.15" lengthAdjust="spacingAndGlyphs">0</text>
<text x="1092.17" y="699.80" font-size="20" text-anchor="middle" textLength="20.30" lengthAdjust="spacingAndGlyphs">20</text>
<text x="1191.15" y="699.80" font-size="20" text-anchor="middle" textLength="20.30" lengthAdjust="spacingAndGlyphs">40</text>
<text x="1290.12" y="699.80" font-size="20" text-anchor="middle" textLength="20.30" lengthAdjust="spacingAndGlyphs">60</text>
<text x="1389.10" y="699.80" font-size="20" text-anchor="middle" textLength="20.30" lengthAdjust="spacingAndGlyphs">80</text>
</g>
<text y="725.00" font-weight="bold"><tspan x="1112.50" font-size="16.5" textLength="94.60" lengthAdjust="spacingAndGlyphs">MDS-UPDRS</tspan> <tspan x="1213.00" font-size="16.3" textLength="13.50" lengthAdjust="spacingAndGlyphs" font-family="'DejaVu Serif', 'Noto Serif CJK SC', serif">Ⅲ</tspan> <tspan x="1234.40" font-size="16.5" textLength="35.00" lengthAdjust="spacingAndGlyphs">score</tspan></text>
<text x="882.50" y="540.80" font-size="13.5" font-weight="bold" text-anchor="middle" transform="rotate(-90 882.50 540.80)" textLength="259.70" lengthAdjust="spacingAndGlyphs">The diffusion rate of the left association fibers</text>
<text x="899.30" y="541.70" font-size="13.5" font-weight="bold" text-anchor="middle" transform="rotate(-90 899.30 541.70)" textLength="237.00" lengthAdjust="spacingAndGlyphs">along the z-axis direction (Left Dzzassoc)</text>
<text x="805.00" y="421.00" font-size="33" font-weight="bold">D</text>
<text x="1305.90" y="422.20" font-size="21.5" fill="#1a1a1a" textLength="67.10" lengthAdjust="spacingAndGlyphs"><tspan>r</tspan>=0.333</text>
<text x="1305.90" y="446.50" font-size="21.5" fill="#1a1a1a" textLength="70.70" lengthAdjust="spacingAndGlyphs"><tspan font-style="italic">P</tspan>=0.011</text>
<text x="1305.90" y="470.50" font-size="21.5" fill="#1a1a1a" textLength="71.20" lengthAdjust="spacingAndGlyphs"><tspan>q</tspan>=0.022</text>
</g>
<g id="panel-E">
<polygon points="401.8,873.6 406.9,873.4 412.0,873.2 417.1,873.0 422.1,872.8 427.2,872.6 432.3,872.4 437.4,872.2 442.5,872.0 447.6,871.8 452.7,871.6 457.8,871.3 462.9,871.1 468.0,870.9 473.1,870.6 478.2,870.3 483.3,870.1 488.4,869.8 493.5,869.4 498.6,869.1 503.6,868.7 508.7,868.3 513.8,867.9 518.9,867.4 524.0,866.9 529.1,866.3 534.2,865.7 539.3,865.0 544.4,864.3 549.5,863.5 554.6,862.7 559.7,861.8 564.8,860.9 569.9,860.0 575.0,859.0 580.1,858.0 585.1,857.0 590.2,856.0 595.3,855.0 600.4,853.9 605.5,852.8 605.5,869.5 600.4,869.7 595.3,870.0 590.2,870.2 585.1,870.5 580.1,870.8 575.0,871.1 569.9,871.5 564.8,871.8 559.7,872.2 554.6,872.7 549.5,873.2 544.4,873.7 539.3,874.2 534.2,874.9 529.1,875.5 524.0,876.3 518.9,877.1 513.8,877.9 508.7,878.7 503.6,879.6 498.6,880.6 493.5,881.5 488.4,882.5 483.3,883.5 478.2,884.5 473.1,885.6 468.0,886.6 462.9,887.7 457.8,888.7 452.7,889.8 447.6,890.9 442.5,892.0 437.4,893.1 432.3,894.2 427.2,895.3 422.1,896.4 417.1,897.5 412.0,898.6 406.9,899.7 401.8,900.8" fill="#30fbfb"/>
<polyline points="401.8,873.6 406.9,873.4 412.0,873.2 417.1,873.0 422.1,872.8 427.2,872.6 432.3,872.4 437.4,872.2 442.5,872.0 447.6,871.8 452.7,871.6 457.8,871.3 462.9,871.1 468.0,870.9 473.1,870.6 478.2,870.3 483.3,870.1 488.4,869.8 493.5,869.4 498.6,869.1 503.6,868.7 508.7,868.3 513.8,867.9 518.9,867.4 524.0,866.9 529.1,866.3 534.2,865.7 539.3,865.0 544.4,864.3 549.5,863.5 554.6,862.7 559.7,861.8 564.8,860.9 569.9,860.0 575.0,859.0 580.1,858.0 585.1,857.0 590.2,856.0 595.3,855.0 600.4,853.9 605.5,852.8" fill="none" stroke="#123c3a" stroke-width="1.05" stroke-dasharray="1.9 2"/>
<polyline points="401.8,900.8 406.9,899.7 412.0,898.6 417.1,897.5 422.1,896.4 427.2,895.3 432.3,894.2 437.4,893.1 442.5,892.0 447.6,890.9 452.7,889.8 457.8,888.7 462.9,887.7 468.0,886.6 473.1,885.6 478.2,884.5 483.3,883.5 488.4,882.5 493.5,881.5 498.6,880.6 503.6,879.6 508.7,878.7 513.8,877.9 518.9,877.1 524.0,876.3 529.1,875.5 534.2,874.9 539.3,874.2 544.4,873.7 549.5,873.2 554.6,872.7 559.7,872.2 564.8,871.8 569.9,871.5 575.0,871.1 580.1,870.8 585.1,870.5 590.2,870.2 595.3,870.0 600.4,869.7 605.5,869.5" fill="none" stroke="#123c3a" stroke-width="1.05" stroke-dasharray="1.9 2"/>
<line x1="401.8" y1="887.2" x2="605.5" y2="861.2" stroke="#06282a" stroke-width="1.5"/>
<g fill="#5a51f3"><ellipse cx="513.8" cy="820.6" rx="2.9" ry="2.4"/><ellipse cx="534.2" cy="830.1" rx="2.9" ry="2.4"/><ellipse cx="513.8" cy="836.1" rx="2.9" ry="2.4"/><ellipse cx="564.8" cy="836.7" rx="2.9" ry="2.4"/><ellipse cx="595.3" cy="838.4" rx="2.9" ry="2.4"/><ellipse cx="493.5" cy="841.5" rx="2.9" ry="2.4"/><ellipse cx="575.0" cy="845.2" rx="2.9" ry="2.4"/><ellipse cx="585.1" cy="843.9" rx="2.9" ry="2.4"/><ellipse cx="595.3" cy="845.0" rx="2.9" ry="2.4"/><ellipse cx="605.5" cy="847.8" rx="2.9" ry="2.4"/><ellipse cx="605.5" cy="849.9" rx="2.9" ry="2.4"/><ellipse cx="513.8" cy="851.5" rx="2.9" ry="2.4"/><ellipse cx="513.8" cy="853.8" rx="2.9" ry="2.4"/><ellipse cx="554.6" cy="853.2" rx="2.9" ry="2.4"/><ellipse cx="554.6" cy="855.5" rx="2.9" ry="2.4"/><ellipse cx="575.0" cy="854.3" rx="2.9" ry="2.4"/><ellipse cx="564.8" cy="856.4" rx="2.9" ry="2.4"/><ellipse cx="585.1" cy="857.1" rx="2.9" ry="2.4"/><ellipse cx="483.3" cy="860.2" rx="2.9" ry="2.4"/><ellipse cx="564.8" cy="861.0" rx="2.9" ry="2.4"/><ellipse cx="585.1" cy="860.3" rx="2.9" ry="2.4"/><ellipse cx="595.3" cy="860.0" rx="2.9" ry="2.4"/><ellipse cx="605.5" cy="861.0" rx="2.9" ry="2.4"/><ellipse cx="554.6" cy="862.5" rx="2.9" ry="2.4"/><ellipse cx="554.6" cy="864.9" rx="2.9" ry="2.4"/><ellipse cx="544.4" cy="863.8" rx="2.9" ry="2.4"/><ellipse cx="585.1" cy="863.6" rx="2.9" ry="2.4"/><ellipse cx="595.3" cy="863.3" rx="2.9" ry="2.4"/><ellipse cx="513.8" cy="865.7" rx="2.9" ry="2.4"/><ellipse cx="513.8" cy="869.0" rx="2.9" ry="2.4"/><ellipse cx="564.8" cy="866.5" rx="2.9" ry="2.4"/><ellipse cx="503.6" cy="869.5" rx="2.9" ry="2.4"/><ellipse cx="534.2" cy="869.0" rx="2.9" ry="2.4"/><ellipse cx="422.1" cy="870.1" rx="2.9" ry="2.4"/><ellipse cx="585.1" cy="870.3" rx="2.9" ry="2.4"/><ellipse cx="432.3" cy="873.0" rx="2.9" ry="2.4"/><ellipse cx="483.3" cy="873.4" rx="2.9" ry="2.4"/><ellipse cx="452.7" cy="877.4" rx="2.9" ry="2.4"/><ellipse cx="524.0" cy="878.2" rx="2.9" ry="2.4"/><ellipse cx="564.8" cy="876.5" rx="2.9" ry="2.4"/><ellipse cx="595.3" cy="877.9" rx="2.9" ry="2.4"/><ellipse cx="605.5" cy="877.3" rx="2.9" ry="2.4"/><ellipse cx="432.3" cy="883.3" rx="2.9" ry="2.4"/><ellipse cx="442.5" cy="884.8" rx="2.9" ry="2.4"/><ellipse cx="585.1" cy="884.4" rx="2.9" ry="2.4"/><ellipse cx="595.3" cy="882.5" rx="2.9" ry="2.4"/><ellipse cx="595.3" cy="884.4" rx="2.9" ry="2.4"/><ellipse cx="513.8" cy="885.7" rx="2.9" ry="2.4"/><ellipse cx="513.8" cy="888.2" rx="2.9" ry="2.4"/><ellipse cx="524.0" cy="887.0" rx="2.9" ry="2.4"/><ellipse cx="473.1" cy="892.1" rx="2.9" ry="2.4"/><ellipse cx="575.0" cy="891.6" rx="2.9" ry="2.4"/><ellipse cx="401.8" cy="894.7" rx="2.9" ry="2.4"/><ellipse cx="534.2" cy="893.4" rx="2.9" ry="2.4"/><ellipse cx="544.4" cy="893.7" rx="2.9" ry="2.4"/><ellipse cx="524.0" cy="899.9" rx="2.9" ry="2.4"/><ellipse cx="554.6" cy="903.0" rx="2.9" ry="2.4"/><ellipse cx="554.6" cy="911.8" rx="2.9" ry="2.4"/><ellipse cx="412.0" cy="918.1" rx="2.9" ry="2.4"/><ellipse cx="544.4" cy="919.4" rx="2.9" ry="2.4"/><ellipse cx="452.7" cy="926.1" rx="2.9" ry="2.4"/></g>
<path d="M299.9,795.7 V1042.7 H708.5" fill="none" stroke="#000" stroke-width="2.2" stroke-linejoin="miter"/>
<path d="M288.8,1042.7 H299.9 M288.8,981.2 H299.9 M288.8,919.8 H299.9 M288.8,858.3 H299.9 M288.8,796.8 H299.9 M299.9,1042.7 V1053.0 M401.8,1042.7 V1053.0 M503.6,1042.7 V1053.0 M605.5,1042.7 V1053.0 M707.4,1042.7 V1053.0" fill="none" stroke="#000" stroke-width="2.2"/>
<g font-weight="bold" font-size="17.3">
<text x="285.90" y="1048.30" font-size="17.3" text-anchor="end" textLength="24.50" lengthAdjust="spacingAndGlyphs">0.0</text>
<text x="285.90" y="986.83" font-size="17.3" text-anchor="end" textLength="24.50" lengthAdjust="spacingAndGlyphs">0.5</text>
<text x="285.90" y="925.35" font-size="17.3" text-anchor="end" textLength="24.50" lengthAdjust="spacingAndGlyphs">1.0</text>
<text x="285.90" y="863.88" font-size="17.3" text-anchor="end" textLength="24.50" lengthAdjust="spacingAndGlyphs">1.5</text>
<text x="285.90" y="802.40" font-size="17.3" text-anchor="end" textLength="24.50" lengthAdjust="spacingAndGlyphs">2.0</text>
<text x="299.90" y="1071.50" font-size="16.8" text-anchor="middle" textLength="9.50" lengthAdjust="spacingAndGlyphs">0</text>
<text x="401.77" y="1071.50" font-size="16.8" text-anchor="middle" textLength="19.00" lengthAdjust="spacingAndGlyphs">10</text>
<text x="503.65" y="1071.50" font-size="16.8" text-anchor="middle" textLength="19.00" lengthAdjust="spacingAndGlyphs">20</text>
<text x="605.52" y="1071.50" font-size="16.8" text-anchor="middle" textLength="19.00" lengthAdjust="spacingAndGlyphs">30</text>
<text x="707.40" y="1071.50" font-size="16.8" text-anchor="middle" textLength="19.00" lengthAdjust="spacingAndGlyphs">40</text>
</g>
<text y="1100.00" font-weight="bold"><tspan x="453.00" font-size="17" textLength="101.10" lengthAdjust="spacingAndGlyphs">MoCA score</tspan></text>
<text x="247.70" y="920.30" font-size="18" font-weight="bold" text-anchor="middle" transform="rotate(-90 247.70 920.30)" textLength="158.70" lengthAdjust="spacingAndGlyphs">Left DTI-ALPS Index</text>
<text x="135.00" y="787.30" font-size="33" font-weight="bold">E</text>
<text x="629.20" y="811.10" font-size="21.5" fill="#1a1a1a" textLength="70.00" lengthAdjust="spacingAndGlyphs"><tspan>r</tspan>=0.350</text>
<text x="629.20" y="834.80" font-size="21.5" fill="#1a1a1a" textLength="75.30" lengthAdjust="spacingAndGlyphs"><tspan font-style="italic">P</tspan>=0.008</text>
<text x="629.20" y="858.40" font-size="21.5" fill="#1a1a1a" textLength="73.00" lengthAdjust="spacingAndGlyphs"><tspan>q</tspan>=0.015</text>
</g>
<g id="panel-F">
<polygon points="1006.2,836.8 1013.9,838.3 1021.7,839.9 1029.5,841.4 1037.3,843.0 1045.1,844.5 1052.9,846.0 1060.7,847.5 1068.5,849.0 1076.3,850.5 1084.1,852.0 1091.9,853.4 1099.6,854.8 1107.4,856.2 1115.2,857.5 1123.0,858.8 1130.8,860.0 1138.6,861.1 1146.4,862.2 1154.2,863.1 1162.0,864.1 1169.8,864.9 1177.5,865.7 1185.3,866.4 1193.1,867.1 1200.9,867.7 1208.7,868.4 1216.5,869.0 1224.3,869.5 1232.1,870.1 1239.9,870.6 1247.7,871.1 1255.5,871.6 1263.2,872.1 1271.0,872.6 1278.8,873.1 1286.6,873.6 1294.4,874.1 1302.2,874.5 1310.0,875.0 1317.8,875.5 1317.8,903.2 1310.0,901.6 1302.2,900.0 1294.4,898.5 1286.6,896.9 1278.8,895.3 1271.0,893.8 1263.2,892.2 1255.5,890.7 1247.7,889.1 1239.9,887.6 1232.1,886.1 1224.3,884.6 1216.5,883.1 1208.7,881.7 1200.9,880.3 1193.1,878.9 1185.3,877.5 1177.5,876.2 1169.8,874.9 1162.0,873.7 1154.2,872.6 1146.4,871.6 1138.6,870.6 1130.8,869.7 1123.0,868.8 1115.2,868.1 1107.4,867.3 1099.6,866.6 1091.9,866.0 1084.1,865.4 1076.3,864.8 1068.5,864.2 1060.7,863.7 1052.9,863.2 1045.1,862.7 1037.3,862.1 1029.5,861.6 1021.7,861.2 1013.9,860.7 1006.2,860.2" fill="#30fbfb"/>
<polyline points="1006.2,836.8 1013.9,838.3 1021.7,839.9 1029.5,841.4 1037.3,843.0 1045.1,844.5 1052.9,846.0 1060.7,847.5 1068.5,849.0 1076.3,850.5 1084.1,852.0 1091.9,853.4 1099.6,854.8 1107.4,856.2 1115.2,857.5 1123.0,858.8 1130.8,860.0 1138.6,861.1 1146.4,862.2 1154.2,863.1 1162.0,864.1 1169.8,864.9 1177.5,865.7 1185.3,866.4 1193.1,867.1 1200.9,867.7 1208.7,868.4 1216.5,869.0 1224.3,869.5 1232.1,870.1 1239.9,870.6 1247.7,871.1 1255.5,871.6 1263.2,872.1 1271.0,872.6 1278.8,873.1 1286.6,873.6 1294.4,874.1 1302.2,874.5 1310.0,875.0 1317.8,875.5" fill="none" stroke="#123c3a" stroke-width="1.05" stroke-dasharray="1.9 2"/>
<polyline points="1006.2,860.2 1013.9,860.7 1021.7,861.2 1029.5,861.6 1037.3,862.1 1045.1,862.7 1052.9,863.2 1060.7,863.7 1068.5,864.2 1076.3,864.8 1084.1,865.4 1091.9,866.0 1099.6,866.6 1107.4,867.3 1115.2,868.1 1123.0,868.8 1130.8,869.7 1138.6,870.6 1146.4,871.6 1154.2,872.6 1162.0,873.7 1169.8,874.9 1177.5,876.2 1185.3,877.5 1193.1,878.9 1200.9,880.3 1208.7,881.7 1216.5,883.1 1224.3,884.6 1232.1,886.1 1239.9,887.6 1247.7,889.1 1255.5,890.7 1263.2,892.2 1271.0,893.8 1278.8,895.3 1286.6,896.9 1294.4,898.5 1302.2,900.0 1310.0,901.6 1317.8,903.2" fill="none" stroke="#123c3a" stroke-width="1.05" stroke-dasharray="1.9 2"/>
<line x1="1006.2" y1="848.5" x2="1317.8" y2="889.3" stroke="#06282a" stroke-width="1.5"/>
<g fill="#5a51f3"><ellipse cx="1006.2" cy="814.9" rx="2.9" ry="2.5"/><ellipse cx="1006.2" cy="831.5" rx="2.9" ry="2.5"/><ellipse cx="1125.6" cy="824.4" rx="2.9" ry="2.5"/><ellipse cx="1120.4" cy="830.6" rx="2.9" ry="2.5"/><ellipse cx="1099.6" cy="833.4" rx="2.9" ry="2.5"/><ellipse cx="1063.3" cy="836.0" rx="2.9" ry="2.5"/><ellipse cx="1068.5" cy="839.0" rx="2.9" ry="2.5"/><ellipse cx="1068.5" cy="840.7" rx="2.9" ry="2.5"/><ellipse cx="1099.6" cy="840.3" rx="2.9" ry="2.5"/><ellipse cx="1104.8" cy="845.0" rx="2.9" ry="2.5"/><ellipse cx="1156.8" cy="843.3" rx="2.9" ry="2.5"/><ellipse cx="1167.2" cy="847.2" rx="2.9" ry="2.5"/><ellipse cx="1110.0" cy="849.3" rx="2.9" ry="2.5"/><ellipse cx="1073.7" cy="850.0" rx="2.9" ry="2.5"/><ellipse cx="1229.5" cy="848.7" rx="2.9" ry="2.5"/><ellipse cx="1026.9" cy="851.1" rx="2.9" ry="2.5"/><ellipse cx="1141.2" cy="852.3" rx="2.9" ry="2.5"/><ellipse cx="1213.9" cy="853.2" rx="2.9" ry="2.5"/><ellipse cx="1120.4" cy="855.8" rx="2.9" ry="2.5"/><ellipse cx="1167.2" cy="855.4" rx="2.9" ry="2.5"/><ellipse cx="1208.7" cy="857.1" rx="2.9" ry="2.5"/><ellipse cx="1141.2" cy="857.1" rx="2.9" ry="2.5"/><ellipse cx="1110.0" cy="857.5" rx="2.9" ry="2.5"/><ellipse cx="1104.8" cy="859.2" rx="2.9" ry="2.5"/><ellipse cx="1042.5" cy="858.8" rx="2.9" ry="2.5"/><ellipse cx="1187.9" cy="859.7" rx="2.9" ry="2.5"/><ellipse cx="1146.4" cy="859.9" rx="2.9" ry="2.5"/><ellipse cx="1141.2" cy="860.9" rx="2.9" ry="2.5"/><ellipse cx="1078.9" cy="862.0" rx="2.9" ry="2.5"/><ellipse cx="1110.0" cy="862.0" rx="2.9" ry="2.5"/><ellipse cx="1162.0" cy="862.4" rx="2.9" ry="2.5"/><ellipse cx="1110.0" cy="865.2" rx="2.9" ry="2.5"/><ellipse cx="1156.8" cy="865.2" rx="2.9" ry="2.5"/><ellipse cx="1078.9" cy="866.5" rx="2.9" ry="2.5"/><ellipse cx="1198.3" cy="867.0" rx="2.9" ry="2.5"/><ellipse cx="1063.3" cy="869.3" rx="2.9" ry="2.5"/><ellipse cx="1177.5" cy="870.0" rx="2.9" ry="2.5"/><ellipse cx="1094.5" cy="873.0" rx="2.9" ry="2.5"/><ellipse cx="1099.6" cy="874.3" rx="2.9" ry="2.5"/><ellipse cx="1110.0" cy="875.1" rx="2.9" ry="2.5"/><ellipse cx="1208.7" cy="873.8" rx="2.9" ry="2.5"/><ellipse cx="1281.4" cy="873.8" rx="2.9" ry="2.5"/><ellipse cx="1286.6" cy="865.2" rx="2.9" ry="2.5"/><ellipse cx="1312.6" cy="866.1" rx="2.9" ry="2.5"/><ellipse cx="1317.8" cy="866.1" rx="2.9" ry="2.5"/><ellipse cx="1120.4" cy="879.2" rx="2.9" ry="2.5"/><ellipse cx="1187.9" cy="879.9" rx="2.9" ry="2.5"/><ellipse cx="1172.4" cy="880.9" rx="2.9" ry="2.5"/><ellipse cx="1136.0" cy="881.4" rx="2.9" ry="2.5"/><ellipse cx="1110.0" cy="882.0" rx="2.9" ry="2.5"/><ellipse cx="1037.3" cy="882.9" rx="2.9" ry="2.5"/><ellipse cx="1198.3" cy="883.7" rx="2.9" ry="2.5"/><ellipse cx="1141.2" cy="885.0" rx="2.9" ry="2.5"/><ellipse cx="1089.3" cy="888.7" rx="2.9" ry="2.5"/><ellipse cx="1094.5" cy="891.0" rx="2.9" ry="2.5"/><ellipse cx="1208.7" cy="889.1" rx="2.9" ry="2.5"/><ellipse cx="1193.1" cy="890.8" rx="2.9" ry="2.5"/><ellipse cx="1182.7" cy="892.1" rx="2.9" ry="2.5"/><ellipse cx="1125.6" cy="897.3" rx="2.9" ry="2.5"/><ellipse cx="1156.8" cy="900.9" rx="2.9" ry="2.5"/><ellipse cx="1187.9" cy="910.2" rx="2.9" ry="2.5"/><ellipse cx="1208.7" cy="918.1" rx="2.9" ry="2.5"/><ellipse cx="1219.1" cy="916.4" rx="2.9" ry="2.5"/><ellipse cx="1229.5" cy="925.0" rx="2.9" ry="2.5"/></g>
<path d="M969.8,788.8 V1046.7 H1386.4" fill="none" stroke="#000" stroke-width="2.2" stroke-linejoin="miter"/>
<path d="M958.9,1046.7 H969.8 M958.9,982.5 H969.8 M958.9,918.3 H969.8 M958.9,854.1 H969.8 M958.9,789.9 H969.8 M969.8,1046.7 V1057.0 M1073.7,1046.7 V1057.0 M1177.5,1046.7 V1057.0 M1281.4,1046.7 V1057.0 M1385.3,1046.7 V1057.0" fill="none" stroke="#000" stroke-width="2.2"/>
<g font-weight="bold" font-size="17.8">
<text x="956.10" y="1052.40" font-size="17.8" text-anchor="end" textLength="25.50" lengthAdjust="spacingAndGlyphs">0.0</text>
<text x="956.10" y="988.20" font-size="17.8" text-anchor="end" textLength="25.50" lengthAdjust="spacingAndGlyphs">0.5</text>
<text x="956.10" y="924.00" font-size="17.8" text-anchor="end" textLength="25.50" lengthAdjust="spacingAndGlyphs">1.0</text>
<text x="956.10" y="859.80" font-size="17.8" text-anchor="end" textLength="25.50" lengthAdjust="spacingAndGlyphs">1.5</text>
<text x="956.10" y="795.60" font-size="17.8" text-anchor="end" textLength="25.50" lengthAdjust="spacingAndGlyphs">2.0</text>
<text x="969.80" y="1077.10" font-size="17.4" text-anchor="middle" textLength="9.65" lengthAdjust="spacingAndGlyphs">0</text>
<text x="1073.67" y="1077.10" font-size="17.4" text-anchor="middle" textLength="19.30" lengthAdjust="spacingAndGlyphs">20</text>
<text x="1177.55" y="1077.10" font-size="17.4" text-anchor="middle" textLength="19.30" lengthAdjust="spacingAndGlyphs">40</text>
<text x="1281.42" y="1077.10" font-size="17.4" text-anchor="middle" textLength="19.30" lengthAdjust="spacingAndGlyphs">60</text>
<text x="1385.30" y="1077.10" font-size="17.4" text-anchor="middle" textLength="19.30" lengthAdjust="spacingAndGlyphs">80</text>
</g>
<text y="1104.30" font-weight="bold"><tspan x="1095.10" font-size="16.3" textLength="98.80" lengthAdjust="spacingAndGlyphs">MDS-UPDRS</tspan> <tspan x="1199.80" font-size="16.3" textLength="14.00" lengthAdjust="spacingAndGlyphs" font-family="'DejaVu Serif', 'Noto Serif CJK SC', serif">Ⅲ</tspan> <tspan x="1222.60" font-size="16.3" textLength="37.30" lengthAdjust="spacingAndGlyphs">score</tspan></text>
<text x="915.10" y="918.70" font-size="17" font-weight="bold" text-anchor="middle" transform="rotate(-90 915.10 918.70)" textLength="145.10" lengthAdjust="spacingAndGlyphs">Left DTI-ALPS Index</text>
<text x="807.50" y="788.40" font-size="33" font-weight="bold">F</text>
<text x="1298.10" y="799.10" font-size="21.5" fill="#1a1a1a" textLength="77.90" lengthAdjust="spacingAndGlyphs"><tspan>r</tspan>=-0.322</text>
<text x="1298.10" y="823.40" font-size="21.5" fill="#1a1a1a" textLength="76.00" lengthAdjust="spacingAndGlyphs"><tspan font-style="italic">P</tspan>=0.015</text>
<text x="1298.10" y="847.30" font-size="21.5" fill="#1a1a1a" textLength="74.10" lengthAdjust="spacingAndGlyphs"><tspan>q</tspan>=0.015</text>
</g>
<line x1="5.5" y1="1155.9" x2="1530.5" y2="1155.9" stroke="#17618d" stroke-width="2.9" stroke-dasharray="11.1 7.36"/>
<defs>
<linearGradient id="bx" x1="0" y1="0" x2="0" y2="1">
<stop offset="0" stop-color="#48aae3"/><stop offset="0.32" stop-color="#14a2e0"/><stop offset="0.75" stop-color="#0e9bd9"/><stop offset="1" stop-color="#118fcb"/>
</linearGradient>
</defs>
<g id="panel-G">
<line x1="208.4" y1="1390.6" x2="309.0" y2="1283.0" stroke="#f0722b" stroke-width="2.9"/>
<polygon points="313.4,1278.3 311.1,1286.4 305.5,1281.2" fill="#f0722b"/>
<line x1="490.3" y1="1277.6" x2="579.3" y2="1383.6" stroke="#3f8a24" stroke-width="2.9"/>
<polygon points="583.8,1389.0 575.6,1385.4 581.7,1380.3" fill="#3f8a24"/>
<line x1="296.0" y1="1424.0" x2="485.0" y2="1420.7" stroke="#3f8a24" stroke-width="3.8"/>
<polygon points="495.0,1420.5 484.1,1426.0 483.9,1415.4" fill="#3f8a24"/>
<rect x="313.6" y="1244.7" width="176.7" height="65.5" rx="10" fill="url(#bx)"/>
<text x="401.75" y="1284.00" font-size="21" font-weight="bold" text-anchor="middle" textLength="139.70" lengthAdjust="spacingAndGlyphs">Left DTI-ALPS</text>
<rect x="118.8" y="1390.7" width="177.2" height="65.8" rx="10" fill="url(#bx)"/>
<text x="206.85" y="1430.80" font-size="21" font-weight="bold" text-anchor="middle" textLength="58.10" lengthAdjust="spacingAndGlyphs">Group</text>
<rect x="495.7" y="1389" width="176.8" height="64.5" rx="10" fill="url(#bx)"/>
<text x="583.55" y="1427.70" font-size="21" font-weight="bold" text-anchor="middle" textLength="59.30" lengthAdjust="spacingAndGlyphs">MoCA</text>
<text x="396.55" y="1387.20" font-size="19.3" text-anchor="middle" textLength="62.00" lengthAdjust="spacingAndGlyphs" fill="#111">Indirect:</text>
<text x="396.30" y="1408.60" font-size="19.3" text-anchor="middle" textLength="146.40" lengthAdjust="spacingAndGlyphs" fill="#111">CI[0.2269,2.0118]*</text>
<text x="396.55" y="1442.00" font-size="19.3" text-anchor="middle" textLength="51.30" lengthAdjust="spacingAndGlyphs" fill="#111">Direct:</text>
<text x="396.05" y="1464.20" font-size="19.3" text-anchor="middle" textLength="146.90" lengthAdjust="spacingAndGlyphs" fill="#111">CI[2.2689,6.3632]*</text>
<text x="204.00" y="1381.50" font-size="19.2" transform="rotate(-47.5 204.00 1381.50)" textLength="149.00" lengthAdjust="spacingAndGlyphs" fill="#111">CI[0.0613,0.2152]*</text>
<text x="503.20" y="1265.00" font-size="19.2" transform="rotate(51.8 503.20 1265.00)" textLength="157.00" lengthAdjust="spacingAndGlyphs" fill="#111">CI[1.7751,12.0994]*</text>
<text x="139.80" y="1235.40" font-size="33" font-weight="bold">G</text>
</g>
<g id="panel-H">
<line x1="953.0" y1="1382.8" x2="1054.1" y2="1274.8" stroke="#f0722b" stroke-width="2.9"/>
<polygon points="1058.5,1270.1 1056.1,1278.2 1050.6,1273.0" fill="#f0722b"/>
<line x1="1235.1" y1="1269.6" x2="1324.1" y2="1375.3" stroke="#3f8a24" stroke-width="2.9"/>
<polygon points="1328.6,1380.7 1320.4,1377.2 1326.5,1372.0" fill="#3f8a24"/>
<line x1="1040.4" y1="1416.4" x2="1230.5" y2="1413.1" stroke="#3f8a24" stroke-width="3.8"/>
<polygon points="1240.5,1412.9 1229.6,1418.4 1229.4,1407.8" fill="#3f8a24"/>
<rect x="1058" y="1236.4" width="177.1" height="65.2" rx="10" fill="url(#bx)"/>
<text x="1146.25" y="1276.80" font-size="21" font-weight="bold" text-anchor="middle" textLength="139.70" lengthAdjust="spacingAndGlyphs">Left DTI-ALPS</text>
<rect x="864.1" y="1382.3" width="176.3" height="65.7" rx="10" fill="url(#bx)"/>
<text x="951.95" y="1422.40" font-size="21" font-weight="bold" text-anchor="middle" textLength="59.30" lengthAdjust="spacingAndGlyphs">MoCA</text>
<rect x="1241" y="1381" width="176.8" height="64.5" rx="10" fill="url(#bx)"/>
<text x="1328.50" y="1420.20" font-size="21" font-weight="bold" text-anchor="middle" textLength="151.00" lengthAdjust="spacingAndGlyphs">MDS UPDRS III</text>
<text x="1137.85" y="1383.80" font-size="19.3" text-anchor="middle" textLength="63.10" lengthAdjust="spacingAndGlyphs" fill="#111">Indirect:</text>
<text x="1137.20" y="1405.90" font-size="19.3" text-anchor="middle" textLength="160.00" lengthAdjust="spacingAndGlyphs" fill="#111">CI[-0.5524,-0.0625]*</text>
<text x="1143.60" y="1442.50" font-size="19.3" text-anchor="middle" textLength="51.60" lengthAdjust="spacingAndGlyphs" fill="#111">Direct:</text>
<text x="1143.75" y="1464.70" font-size="19.3" text-anchor="middle" textLength="145.30" lengthAdjust="spacingAndGlyphs" fill="#111">CI[-0.9791,0.2163]</text>
<text x="943.60" y="1375.20" font-size="19.2" transform="rotate(-47.5 943.60 1375.20)" textLength="148.50" lengthAdjust="spacingAndGlyphs" fill="#111">CI[0.0029,0.0185]*</text>
<text x="1244.00" y="1251.50" font-size="19.2" transform="rotate(51.8 1244.00 1251.50)" textLength="170.00" lengthAdjust="spacingAndGlyphs" fill="#111">CI[-44.4386,-7.8603]*</text>
<text x="827.00" y="1235.40" font-size="33" font-weight="bold">H</text>
</g>
</svg>
</body></html>
